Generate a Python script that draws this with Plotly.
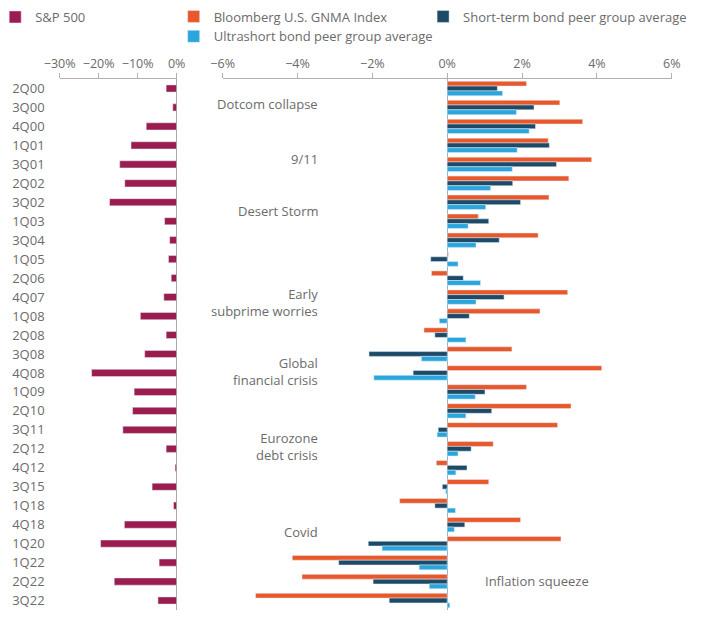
import plotly.graph_objects as go

quarters = ["2Q00", "3Q00", "4Q00", "1Q01", "3Q01", "2Q02", "3Q02", "1Q03", "3Q04", "1Q05",
            "2Q06", "4Q07", "1Q08", "2Q08", "3Q08", "4Q08", "1Q09", "2Q10", "3Q11", "2Q12",
            "4Q12", "3Q15", "1Q18", "4Q18", "1Q20", "1Q22", "2Q22", "3Q22"]

sp500 = [-2.7, -1.0, -7.8, -11.7, -14.6, -13.3, -17.2, -3.1, -1.8, -2.1,
         -1.4, -3.3, -9.3, -2.7, -8.2, -21.8, -10.9, -11.3, -13.8, -2.7,
         -0.4, -6.3, -0.8, -13.4, -19.5, -4.5, -16.0, -4.8]

gnma = [2.12, 3.01, 3.62, 2.70, 3.86, 3.25, 2.72, 0.83, 2.43, 0.03,
        -0.42, 3.22, 2.48, -0.62, 1.73, 4.13, 2.12, 3.31, 2.95, 1.23,
        -0.29, 1.11, -1.27, 1.96, 3.04, -4.14, -3.88, -5.12]

short_term = [1.34, 2.32, 2.36, 2.73, 2.92, 1.75, 1.96, 1.11, 1.39, -0.44,
              0.43, 1.52, 0.59, -0.33, -2.09, -0.91, 1.01, 1.19, -0.24, 0.64,
              0.53, -0.13, -0.33, 0.47, -2.11, -2.90, -1.98, -1.55]

ultrashort = [1.48, 1.85, 2.19, 1.87, 1.74, 1.16, 1.03, 0.56, 0.77, 0.29,
              0.89, 0.77, -0.21, 0.50, -0.69, -1.96, 0.75, 0.50, -0.27, 0.29,
              0.23, -0.04, 0.22, 0.19, -1.74, -0.75, -0.48, 0.07]

events = ["Dotcom collapse", "9/11", "Desert Storm", "Early<br>subprime worries",
          "Global<br>financial crisis", "Eurozone<br>debt crisis", "Covid"]
event_pos = [0.8, 3.7, 6.45, 11.3, 14.9, 18.9, 23.4]

FONT = "Open Sans"
GREY = "#6b6b6b"

fig = go.Figure()

fig.add_trace(go.Bar(y=quarters, x=sp500, orientation="h", name="S&P 500",
                     marker_color="#9b1d4f", width=0.38, xaxis="x", yaxis="y",
                     legend="legend", showlegend=True))

for vals, name, col, leg in [(gnma, "Bloomberg U.S. GNMA Index", "#e8582b", "legend2"),
                             (short_term, "Short-term bond peer group average", "#1d4a66", "legend3"),
                             (ultrashort, "Ultrashort bond peer group average", "#2aa6dc", "legend2")]:
    fig.add_trace(go.Bar(y=quarters, x=vals, orientation="h", name=name,
                         marker_color=col, xaxis="x2", yaxis="y2", legend=leg,
                         showlegend=True))

for txt, pos in zip(events, event_pos):
    fig.add_annotation(x=-3.4, y=pos, xref="x2", yref="y2", text=txt, showarrow=False,
                       xanchor="right", align="right", font=dict(size=13, color=GREY))
fig.add_annotation(x=0.95, y=25.95, xref="x2", yref="y2", text="Inflation squeeze",
                   showarrow=False, xanchor="left", font=dict(size=13, color=GREY))

axis_common = dict(side="top", showline=True, linecolor="#b0b0b0", ticks="outside",
                   ticklen=5, tickcolor="#b0b0b0", showgrid=False, ticksuffix="%",
                   tickfont=dict(size=12.5, color=GREY), fixedrange=True)

legend_common = dict(xanchor="left", yanchor="top", yref="paper", orientation="v",
                     font=dict(size=13, color=GREY), bgcolor="rgba(0,0,0,0)")

# page body adds 8px margin, so figure is 712x609 and positions are shifted by 8px
fig.update_layout(
    width=712, height=609,
    margin=dict(l=0, r=0, t=71, b=7, autoexpand=False),
    paper_bgcolor="white", plot_bgcolor="white",
    font=dict(family=FONT, color=GREY),
    showlegend=True,
    barmode="group", bargap=0.24, bargroupgap=0,
    xaxis=dict(domain=[0.0725, 0.2369], range=[-30, 0], dtick=10, anchor="y",
               zeroline=True, zerolinecolor="#a8a8a8", zerolinewidth=1, **axis_common),
    yaxis=dict(domain=[0, 1], type="category", categoryarray=quarters, autorange="reversed",
               showline=False, ticks="", showgrid=False, anchor="x", automargin=False,
               ticklabelstandoff=14, tickfont=dict(size=13, color=GREY)),
    xaxis2=dict(domain=[0.3015, 0.9322], range=[-6, 6], dtick=2, anchor="y2",
                zeroline=True, zerolinecolor="#8fb6c9", zerolinewidth=1.2, **axis_common),
    yaxis2=dict(domain=[0, 1], type="category", categoryarray=quarters, autorange="reversed",
                showticklabels=False, showline=False, ticks="", showgrid=False, anchor="x2",
                matches="y"),
    legend=dict(x=-0.018, y=1.145, xref="paper", **legend_common),
    legend2=dict(x=0.2327, y=1.146, xref="paper", **legend_common),
    legend3=dict(x=0.583, y=1.146, xref="paper", **legend_common),
)

fig.write_html("out.html")
